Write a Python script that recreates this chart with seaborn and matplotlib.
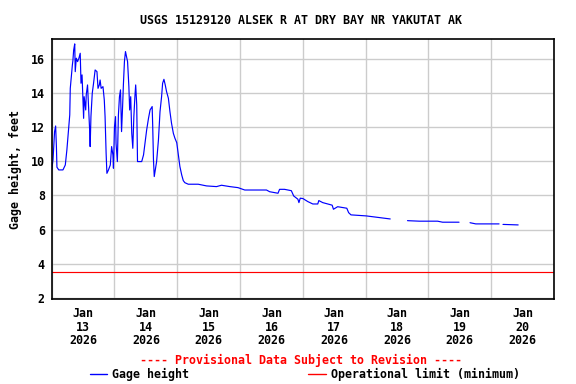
import numpy as np
import pandas as pd
import matplotlib
matplotlib.use("Agg")
import matplotlib.pyplot as plt
import matplotlib.dates as mdates
from matplotlib.lines import Line2D
import seaborn as sns

# ---- data (hours since 2026-01-13 00:00, gage height in feet) ----
start = "2026-01-13 00:00"
hours = [0, 0.5, 1.1, 1.5, 1.8, 2.0, 2.7, 4.3, 5.2, 5.8, 6.5, 6.9, 7.1, 7.5, 7.9, 8.1,
         8.4, 8.8, 9.0, 9.4, 9.9, 10.4, 10.9, 11.2, 11.6, 11.9, 12.2, 12.4, 13.0, 13.2,
         13.7, 14.5, 14.7, 15.0, 15.5, 16.0, 16.6, 17.3, 17.7, 18.2, 18.5, 18.9, 19.6,
         20.1, 20.4, 20.8, 21.1, 21.7, 22.4, 22.9, 23.4, 23.6, 24.0, 24.4, 24.6, 25.1,
         25.5, 25.9, 26.3, 26.7, 27.1, 27.4, 27.8, 28.2, 28.6, 29.0, 29.5, 29.8, 30.2,
         30.6, 31.0, 31.4, 31.8, 32.1, 32.5, 32.8, 34.4, 35.1, 35.8, 36.3, 37.0, 37.6,
         38.4, 38.6, 38.9, 39.2, 39.8, 40.1, 40.8, 41.4, 42.0, 42.4, 42.9, 43.4, 43.9,
         44.6, 45.2, 45.8, 46.5, 47.1, 47.8, 48.4, 49.0, 49.7, 50.3, 50.9, 52.2, 56.0,
         59.2, 63.0, 64.9, 68.1, 71.2, 73.8, 82.1, 83.3, 86.5, 87.1, 89.0, 91.6, 92.5,
         94.1, 94.5, 95.0, 96.0, 97.9, 99.8, 101.7, 102.1, 103.6, 107.2, 107.7, 109.3,
         112.8, 113.5, 114.4, 120.2, 129.4,
         136.0, 140.5, 147.5, 149.4, 155.7,
         159.9, 162.1, 171.0,
         172.5, 178.3]
gage_height = [9.5, 10.09, 11.75, 12.08, 10.87, 9.66, 9.5, 9.5, 9.79, 10.67, 11.95, 12.73,
               14.29, 14.98, 15.66, 15.92, 16.54, 16.9, 15.27, 16.06, 15.86, 16.06, 16.35,
               14.59, 15.08, 13.8, 12.53, 13.8, 13.02, 13.9, 14.49, 11.85, 10.87, 12.63,
               14.0, 14.59, 15.37, 15.27, 14.29, 14.49, 14.78, 14.29, 14.39, 13.61, 12.63,
               10.48, 9.30, 9.5, 9.79, 10.87, 10.38, 9.6, 12.04, 12.63, 11.06, 9.99, 12.73,
               13.8, 14.2, 11.75, 13.22, 14.49, 15.86, 16.45, 16.15, 15.86, 14.39, 13.02,
               13.8, 11.65, 10.77, 12.63, 13.8, 14.49, 13.32, 9.99, 9.99, 10.38, 11.26,
               11.85, 12.53, 13.02, 13.22, 12.14, 10.09, 9.11, 9.7, 9.99, 11.26, 12.92,
               13.8, 14.59, 14.82, 14.49, 14.1, 13.71, 12.92, 12.24, 11.65, 11.36, 11.1,
               10.38, 9.7, 9.2, 8.87, 8.75, 8.66, 8.66, 8.56, 8.52, 8.6, 8.52, 8.46, 8.32,
               8.32, 8.22, 8.13, 8.36, 8.36, 8.28, 7.97, 7.78, 7.58, 7.84, 7.82, 7.64, 7.5,
               7.5, 7.7, 7.58, 7.43, 7.19, 7.34, 7.25, 6.99, 6.86, 6.8, 6.62,
               6.52, 6.49, 6.49, 6.43, 6.43,
               6.4, 6.33, 6.33,
               6.3, 6.27]
gap_after_hours = [129.4, 155.7, 171.0]   # data gaps follow these times
operational_limit = 3.5
title = "USGS 15129120 ALSEK R AT DRY BAY NR YAKUTAT AK"
ylabel = "Gage height, feet"
series_labels = ["Gage height", "Operational limit (minimum)"]
note = "---- Provisional Data Subject to Revision ----"
y_ticks = [2, 4, 6, 8, 10, 12, 14, 16]

# ---- build frame ----
t0 = pd.Timestamp(start)
h = np.array(hours, dtype=float)
seg = np.searchsorted(np.array(gap_after_hours), h, side="left")
df = pd.DataFrame({
    "time": t0 + pd.to_timedelta(h, unit="h"),
    "value": gage_height,
    "seg": seg,
})

sns.set_style("whitegrid")
mono = ["DejaVu Sans Mono"]
plt.rcParams["font.family"] = mono
plt.rcParams["font.weight"] = "bold"
for k in ["text.color", "axes.labelcolor", "xtick.color", "ytick.color"]:
    plt.rcParams[k] = "black"
FS = 8.4

fig = plt.figure(figsize=(5.76, 3.84), dpi=100)
ax = fig.add_axes([51.7 / 576, 1 - 299 / 384, (554 - 51.7) / 576, (299 - 39.3) / 384])

sns.lineplot(data=df, x="time", y="value", units="seg", estimator=None,
             color="#0000ff", lw=0.85, ax=ax, legend=False)
ax.axhline(operational_limit, color="#ff0000", lw=0.85)

ax.set_xlim(t0, t0 + pd.Timedelta(days=8))
ax.set_ylim(1.92, 17.17)
ax.set_yticks(y_ticks)
ax.set_yticklabels([str(v) for v in y_ticks], fontsize=FS, fontweight="bold", color="black")

ax.xaxis.set_major_locator(mdates.DayLocator())
ax.xaxis.set_major_formatter(matplotlib.ticker.NullFormatter())
ax.xaxis.set_minor_locator(mdates.HourLocator(byhour=[12]))
ax.xaxis.set_minor_formatter(mdates.DateFormatter("%b\n%d\n%Y"))
for lab in ax.xaxis.get_minorticklabels():
    lab.set_fontsize(FS)
    lab.set_fontweight("bold")
    lab.set_linespacing(1.05)
ax.tick_params(axis="both", which="both", length=0, colors="black")
ax.tick_params(axis="x", which="minor", pad=6)
ax.tick_params(axis="y", pad=5)

ax.grid(True, which="major", color="#cccccc", lw=1.0)
ax.grid(False, which="minor")
for s in ax.spines.values():
    s.set_color("black")
    s.set_linewidth(1.2)

ax.set_xlabel("")
ax.set_ylabel(ylabel, fontsize=FS, fontweight="bold", labelpad=6, color="black")

fig.text(301 / 576, 1 - 20 / 384, title, ha="center", va="center",
         fontsize=FS, fontweight="bold", color="black")
fig.text(301 / 576, 1 - 360 / 384, note, ha="center", va="center",
         fontsize=FS, fontweight="bold", color="#ff0000")

handles = [Line2D([], [], color="#0000ff", lw=1.0), Line2D([], [], color="#ff0000", lw=1.0)]
leg = fig.legend(handles, series_labels, loc="center left",
                 bbox_to_anchor=(89.5 / 576, 1 - 374.5 / 384), ncol=2, frameon=False,
                 borderpad=0, borderaxespad=0, handlelength=1.47, handletextpad=0.5,
                 columnspacing=10.2, prop={"family": mono, "weight": "bold", "size": FS})
for t in leg.get_texts():
    t.set_color("black")

fig.savefig("out.png", dpi=100)
